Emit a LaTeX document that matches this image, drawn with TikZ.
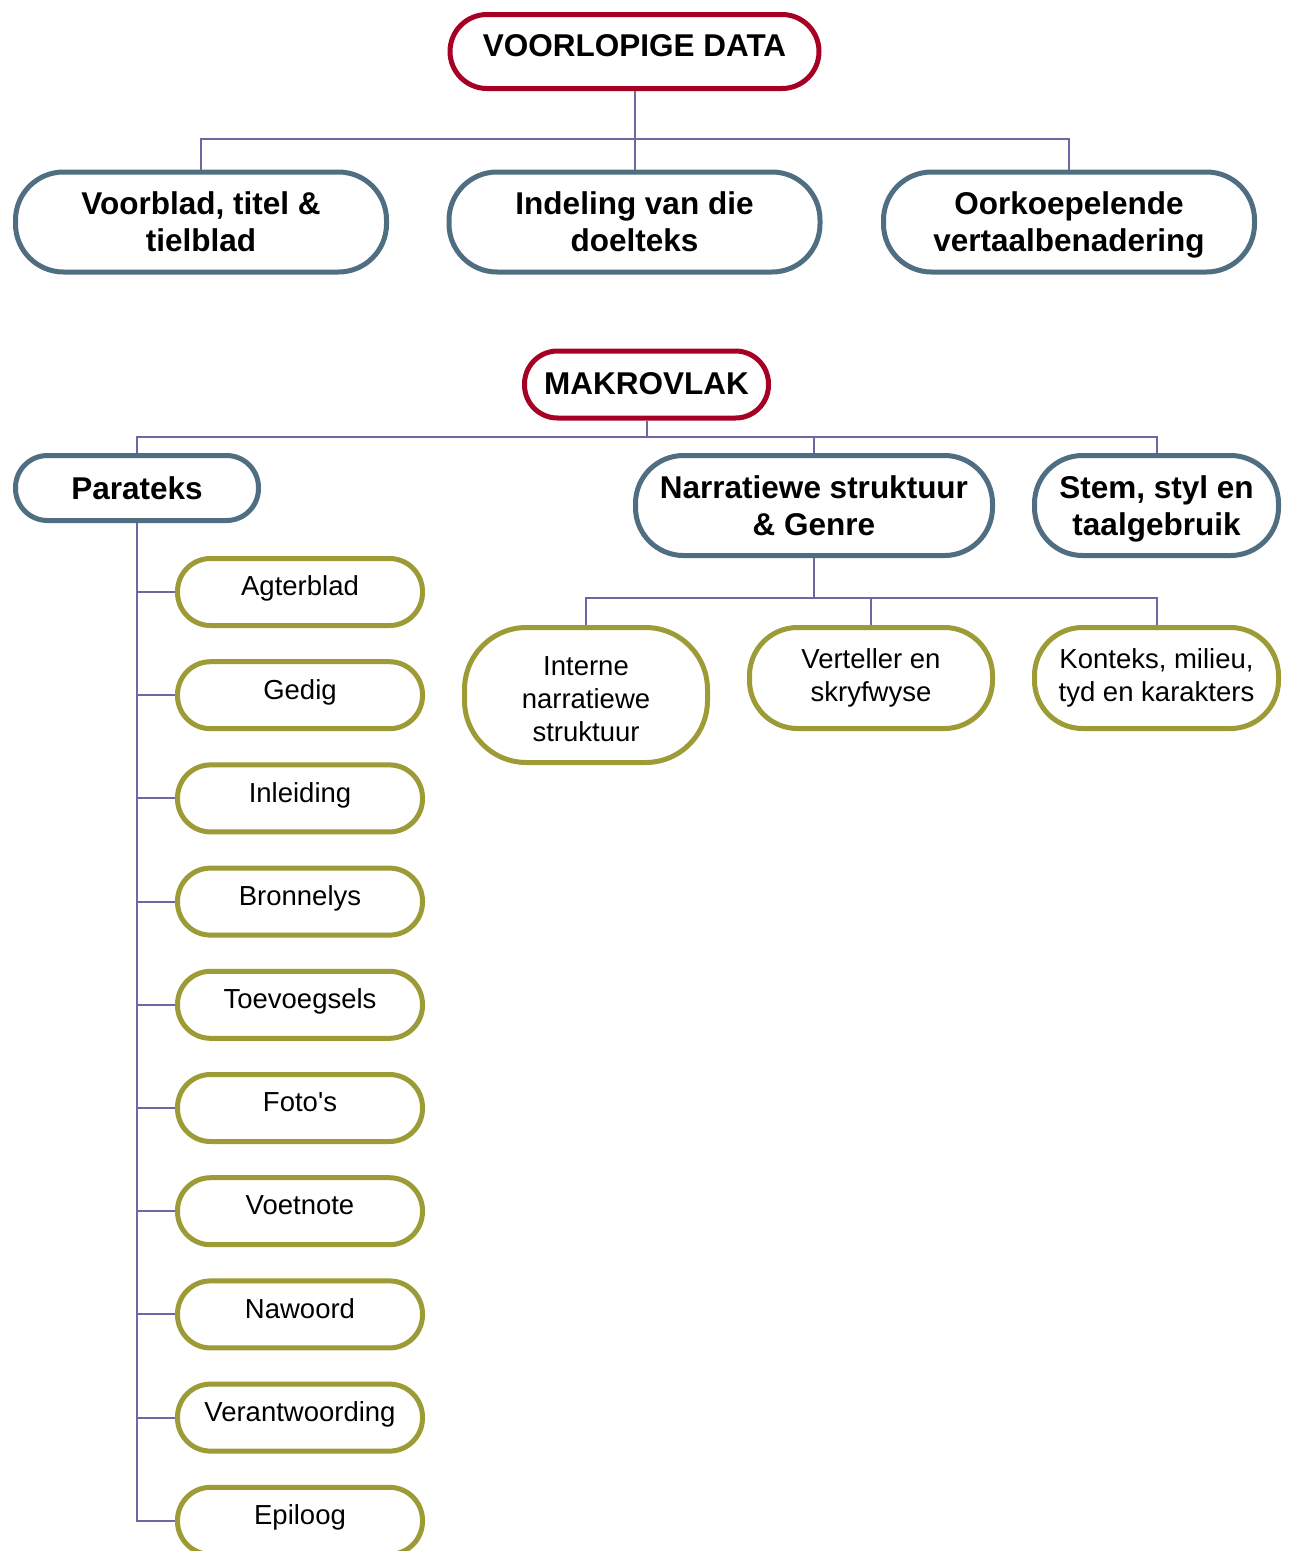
\documentclass[tikz,border=0pt]{standalone}
\usepackage{fontspec}
\setmainfont{Liberation Sans}[Ligatures=TeXOff]
\definecolor{headred}{RGB}{166,0,36}
\definecolor{midblue}{RGB}{79,110,130}
\definecolor{leafolive}{RGB}{156,155,53}
\definecolor{linkpurple}{RGB}{108,104,162}
\begin{document}
\begin{tikzpicture}[x=1pt,y=-1pt,
  box/.style={draw, fill=white, line width=5pt, align=center, inner sep=0pt, text=black},
  headbox/.style={box, draw=headred, font=\fontsize{31.5}{37}\selectfont\bfseries,
    minimum height=70pt, rounded corners=35pt},
  midbox/.style={box, draw=midblue, font=\fontsize{31.5}{37}\selectfont\bfseries,
    minimum height=100pt, rounded corners=48pt, text depth=0pt},
  leafbox/.style={box, draw=leafolive, font=\fontsize{27.5}{33}\selectfont,
    minimum width=245pt, minimum height=67pt, rounded corners=33pt},
  link/.style={draw=linkpurple, line width=2pt}
]
\useasboundingbox (0,0) rectangle (1293,1551);
\fill[white] (0,0) rectangle (1293,1551);
\clip (0,0) rectangle (1293,1551);

% --- first tree ---
\node[headbox, minimum width=369pt, minimum height=74pt, rounded corners=37pt, text depth=12pt] (vd) at (634.5,51.5) {VOORLOPIGE DATA};
\node[midbox, minimum width=371pt] (vb)  at (201,222)   {Voorblad, titel \&\\tielblad};
\node[midbox, minimum width=371pt] (ind) at (634.5,222) {Indeling van die\\doelteks};
\node[midbox, minimum width=371pt] (oor) at (1069,222)  {Oorkoepelende\\vertaalbenadering};

\coordinate (bus1) at (634.5,139);
\draw[link] (vd.south) -- (ind.north);
\draw[link] (bus1) -| (vb.north);
\draw[link] (bus1) -| (oor.north);

% --- second tree ---
\node[headbox, minimum width=244pt, minimum height=67pt, rounded corners=33pt, text depth=3pt] (mak) at (646.5,384.5) {MAKROVLAK};
\node[midbox, minimum width=243pt, minimum height=65pt, rounded corners=32pt] (par) at (137,488) {Parateks};
\node[midbox, minimum width=357pt] (nar)  at (814,505.5)    {Narratiewe struktuur\\\& Genre};
\node[midbox, minimum width=244pt] (stem) at (1156.5,505.5) {Stem, styl en\\taalgebruik};

\coordinate (bus2) at (646.5,437);
\draw[link] (mak.south) -- (bus2);
\draw[link] (bus2) -| (par.north);
\draw[link] (bus2) -| (nar.north);
\draw[link] (bus2) -| (stem.north);

% narrative branches
\node[leafbox, minimum width=243pt, minimum height=135pt, rounded corners=62pt, text height=92pt, text depth=0pt] (int) at (586,695) {Interne\\narratiewe\\struktuur};
\node[leafbox, minimum width=243pt, minimum height=101pt, rounded corners=48pt] (ver) at (871,678) {Verteller en\\skryfwyse};
\node[leafbox, minimum width=244pt, minimum height=101pt, rounded corners=48pt] (kon) at (1156.5,678) {Konteks, milieu,\\tyd en karakters};

\coordinate (bus3) at (814,598);
\draw[link] (nar.south) -- (bus3);
\draw[link] (bus3) -| (int.north);
\draw[link] (bus3) -| (ver.north);
\draw[link] (bus3) -| (kon.north);

% paratext list
\foreach \name/\txt [count=\i from 0] in {
  agt/Agterblad, ged/Gedig, inl/Inleiding, bro/Bronnelys, toe/Toevoegsels,
  fot/Foto's, voe/Voetnote, naw/Nawoord, ver2/Verantwoording, epi/Epiloog} {
  \node[leafbox, text depth=12pt] (\name) at (300,592+103.2*\i) {\txt};
  \draw[link] (par.south) |- (\name.west);
}
\end{tikzpicture}
\end{document}
